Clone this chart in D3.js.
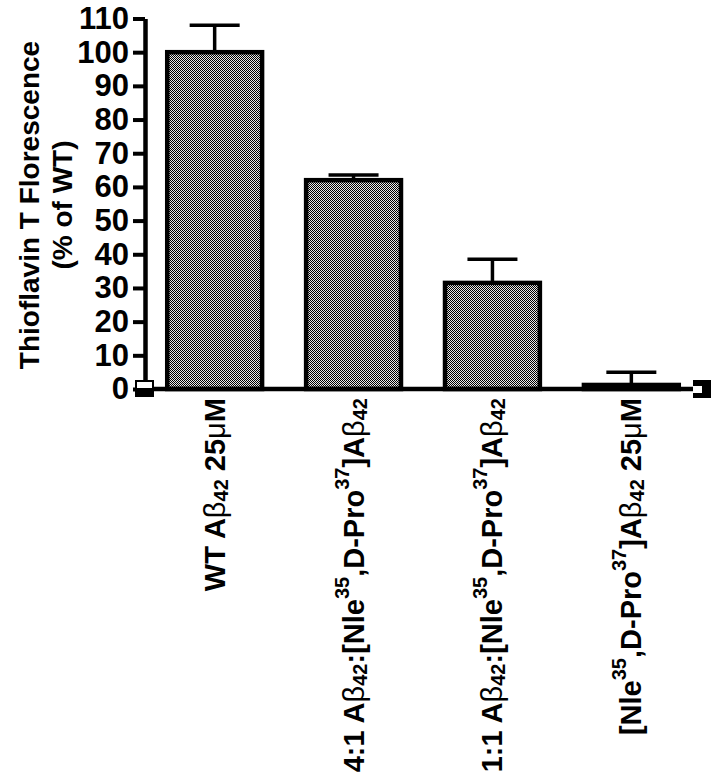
<!DOCTYPE html>
<html>
<head>
<meta charset="utf-8">
<script src="https://cdn.jsdelivr.net/npm/d3@7"></script>
<style>
  body { margin: 0; background: #fff; }
  svg { display: block; font-family: "Liberation Sans", Arial, sans-serif; }
</style>
</head>
<body>
<svg id="chart" width="718" height="779"></svg>
<script>
/* global d3: false */

// data
const groups = ['WT', '4:1', '1:1', 'Nle'];
const means = [100, 62, 31.5, 1.2];
const errors = [8, 1.5, 7, 3.8];
const yTicks = [0, 10, 20, 30, 40, 50, 60, 70, 80, 90, 100, 110];
const yTitle = ['Thioflavin T Florescence', '(% of WT)'];

// label pieces: [text, kind] where kind is '' normal, 'g' greek, 'sub', 'sup'
const labelParts = [
  [['WT A', ''], ['β', 'g'], ['42', 'sub'], [' 25', ''], ['μ', 'g'], ['M', '']],
  [['4:1 A', ''], ['β', 'g'], ['42', 'sub'], [':[Nle', ''], ['35', 'sup'], [',D-Pro', ''],
    ['37', 'sup'], [']A', ''], ['β', 'g'], ['42', 'sub']],
  [['1:1 A', ''], ['β', 'g'], ['42', 'sub'], [':[Nle', ''], ['35', 'sup'], [',D-Pro', ''],
    ['37', 'sup'], [']A', ''], ['β', 'g'], ['42', 'sub']],
  [['[Nle', ''], ['35', 'sup'], [',D-Pro', ''], ['37', 'sup'], [']A', ''], ['β', 'g'],
    ['42', 'sub'], [' 25', ''], ['μ', 'g'], ['M', '']],
];

const svg = d3.select('#chart');
const x0 = 145;
const baseY = 389;

const x = d3.scaleBand()
  .domain(groups)
  .range([x0, 701])
  .paddingInner(0.317)
  .paddingOuter(0.16);

const y = d3.scaleLinear()
  .domain([0, 110])
  .range([baseY, 18.5]);

// checker fill
const pat = svg.append('defs').append('pattern')
  .attr('id', 'checker')
  .attr('patternUnits', 'userSpaceOnUse')
  .attr('width', 2)
  .attr('height', 2);
pat.append('rect').attr('width', 2).attr('height', 2).attr('fill', '#e8e8e8');
pat.append('rect').attr('width', 1).attr('height', 1).attr('fill', '#000');
pat.append('rect').attr('x', 1).attr('y', 1).attr('width', 1).attr('height', 1).attr('fill', '#000');

// error bars (upper only)
const err = svg.append('g').attr('stroke', '#000').attr('stroke-width', 3.5);
groups.forEach((g, i) => {
  const cx = x(g) + x.bandwidth() / 2;
  err.append('line')
    .attr('x1', cx).attr('x2', cx)
    .attr('y1', y(means[i])).attr('y2', y(means[i] + errors[i]));
  err.append('line')
    .attr('x1', cx - 25).attr('x2', cx + 25)
    .attr('y1', y(means[i] + errors[i])).attr('y2', y(means[i] + errors[i]));
});

// bars
svg.append('g')
  .selectAll('rect')
  .data(groups)
  .join('rect')
  .attr('x', d => x(d))
  .attr('y', (d, i) => y(means[i]))
  .attr('width', x.bandwidth())
  .attr('height', (d, i) => baseY - y(means[i]))
  .attr('fill', 'url(#checker)')
  .attr('stroke', '#000')
  .attr('stroke-width', 4.5);

// y axis
const yAxis = svg.append('g')
  .attr('transform', `translate(${x0},0)`)
  .call(d3.axisLeft(y).tickValues(yTicks).tickSize(12).tickSizeOuter(0).tickPadding(4));
yAxis.select('.domain').attr('stroke-width', 4.5);
yAxis.selectAll('.tick line').attr('stroke-width', 4);
yAxis.selectAll('.tick text')
  .attr('font-family', '"Liberation Sans", Arial, sans-serif')
  .attr('font-size', 31)
  .attr('font-weight', 'bold')
  .attr('fill', '#000');

// x axis line
svg.append('line')
  .attr('x1', x0 - 2).attr('x2', 694)
  .attr('y1', baseY).attr('y2', baseY)
  .attr('stroke', '#000')
  .attr('stroke-width', 4.5);

// axis end markers
svg.append('rect')
  .attr('x', 136).attr('y', 381).attr('width', 17).attr('height', 8)
  .attr('fill', '#fff').attr('stroke', '#000').attr('stroke-width', 2);
svg.append('rect')
  .attr('x', 135).attr('y', 389).attr('width', 19).attr('height', 8)
  .attr('fill', '#000');
svg.append('rect')
  .attr('x', 693).attr('y', 380).attr('width', 18).attr('height', 18)
  .attr('fill', '#000');
svg.append('rect')
  .attr('x', 693).attr('y', 386).attr('width', 9).attr('height', 7)
  .attr('fill', '#fff');

// category labels
groups.forEach((g, i) => {
  const cx = x(g) + x.bandwidth() / 2;
  const t = svg.append('text')
    .attr('transform', `translate(${cx + 10},398) rotate(-90)`)
    .attr('text-anchor', 'end')
    .attr('font-size', 29)
    .attr('font-weight', 'bold');
  labelParts[i].forEach(([s, kind]) => {
    const sp = t.append('tspan').text(s);
    if (kind === 'g') {
      sp.attr('font-weight', 'normal');
    } else if (kind === 'sub') {
      sp.attr('font-size', 20).attr('baseline-shift', -3);
    } else if (kind === 'sup') {
      sp.attr('font-size', 20).attr('baseline-shift', 15);
    }
  });
});

// y title
svg.append('text')
  .attr('transform', 'translate(0,205) rotate(-90)')
  .attr('text-anchor', 'middle')
  .attr('font-size', 28)
  .attr('font-weight', 'bold')
  .selectAll('tspan')
  .data(yTitle)
  .join('tspan')
  .attr('x', 0)
  .attr('y', (d, i) => 39 + i * 33)
  .text(d => d);
</script>
</body>
</html>
